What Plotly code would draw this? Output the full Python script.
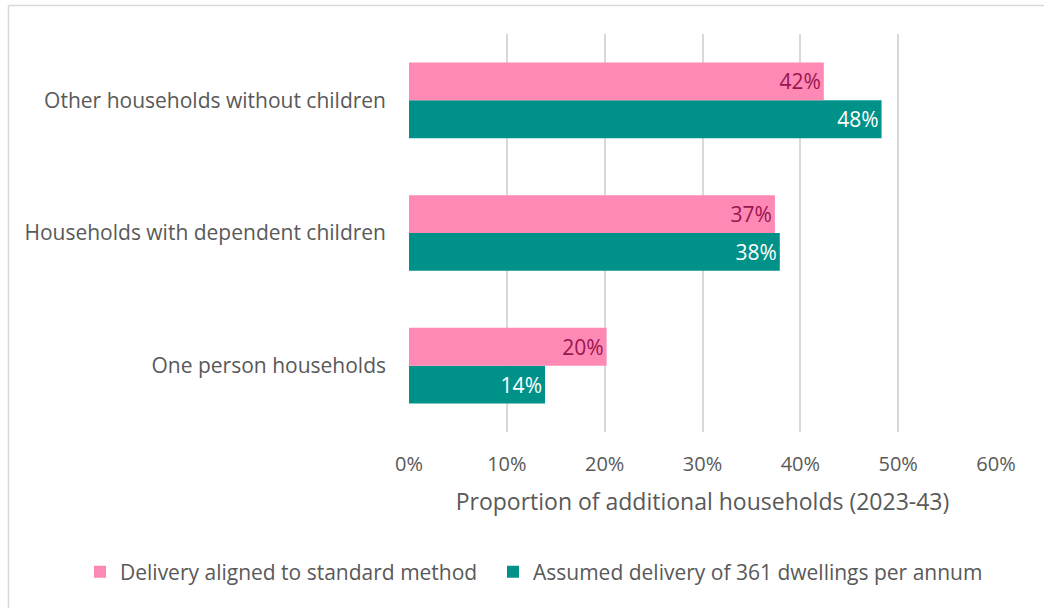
import plotly.graph_objects as go

categories = ["One person households", "Households with dependent children", "Other households without children"]
standard_method = [20.2, 37.4, 42.4]
assumed_361 = [13.9, 37.9, 48.3]
series_names = ["Delivery aligned to standard method", "Assumed delivery of 361 dwellings per annum"]
x_ticks = [0, 10, 20, 30, 40, 50, 60]
x_tick_labels = ["0%", "10%", "20%", "30%", "40%", "50%", "60%"]

PINK = "#FF89B5"
TEAL = "#009189"
TEXT = "#595959"
FONT = "Open Sans"

W, H = 1044, 608
ML, MR, MT, MB = 409, 48, 34, 176
PW, PH = W - ML - MR, H - MT - MB

fig = go.Figure()
fig.add_trace(go.Bar(
    y=categories, x=assumed_361, name=series_names[1], orientation="h",
    marker=dict(color=TEAL, line=dict(width=0)),
    texttemplate="%{x:.0f}%", textposition="inside", insidetextanchor="end",
    textfont=dict(color="white", size=21, family=FONT),
    legend="legend2",
))
fig.add_trace(go.Bar(
    y=categories, x=standard_method, name=series_names[0], orientation="h",
    marker=dict(color=PINK, line=dict(width=0)),
    texttemplate="%{x:.0f}%", textposition="inside", insidetextanchor="end",
    textfont=dict(color="#99164F", size=21, family=FONT),
    legend="legend",
))

def px_x(p):
    return (p - ML) / PW

def px_y(p):
    return (H - MB - p) / PH

# Outer frame lines (top and left)
fig.add_shape(type="line", xref="paper", yref="paper",
              x0=px_x(8.5), x1=px_x(1044), y0=px_y(5.5), y1=px_y(5.5),
              line=dict(color="#D9D9D9", width=1.5))
fig.add_shape(type="line", xref="paper", yref="paper",
              x0=px_x(8.5), x1=px_x(8.5), y0=px_y(5.5), y1=px_y(608),
              line=dict(color="#D9D9D9", width=1.5))

legend_common = dict(
    orientation="h", xref="container", yref="container",
    xanchor="left", y=36 / H, yanchor="middle",
    font=dict(size=21, color=TEXT), bgcolor="rgba(0,0,0,0)",
)

fig.update_layout(
    width=W, height=H,
    margin=dict(l=ML, r=MR, t=MT, b=MB, autoexpand=False),
    paper_bgcolor="white", plot_bgcolor="white",
    barmode="group", bargap=0.43, bargroupgap=0,
    font=dict(family=FONT, color=TEXT, size=21),
    uniformtext=dict(mode="show", minsize=10),
    xaxis=dict(
        range=[0, 60], tickvals=x_ticks, ticktext=x_tick_labels,
        showgrid=True, gridcolor="#D9D9D9", gridwidth=1.5,
        zeroline=False, showline=False, ticks="",
        tickfont=dict(size=20, color=TEXT), ticklabelstandoff=18,
        title=dict(text="Proportion of additional households (2023-43)",
                   font=dict(size=23, color=TEXT), standoff=17),
    ),
    yaxis=dict(
        showgrid=False, zeroline=False, showline=False, ticks="",
        tickfont=dict(size=21, color=TEXT), ticklabelstandoff=22,
    ),
    legend=dict(x=80 / W, **legend_common),
    legend2=dict(x=493 / W, **legend_common),
    showlegend=True,
)

fig.write_html("out.html")
